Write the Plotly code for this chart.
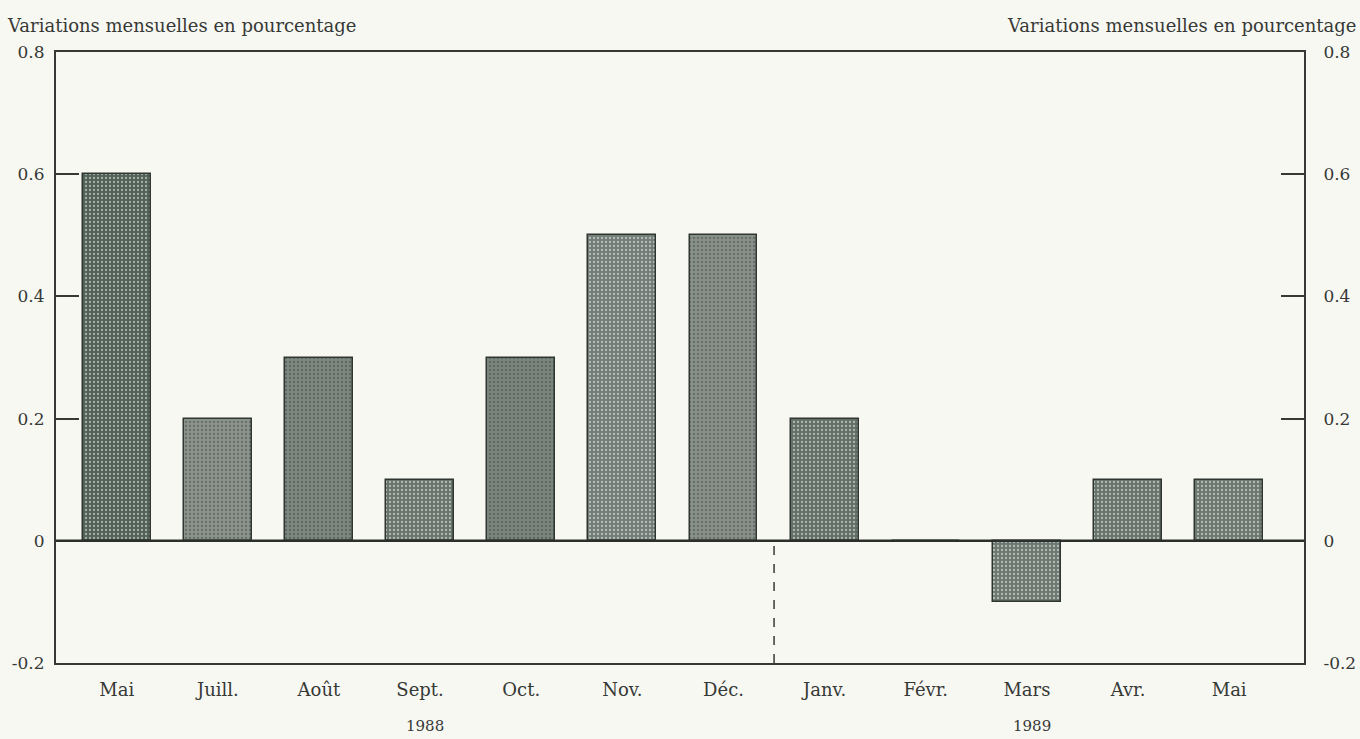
import plotly.graph_objects as go

# Monthly change, percent (May 1988 - May 1989)
months = ["Mai", "Juill.", "Août", "Sept.", "Oct.", "Nov.", "Déc.",
          "Janv.", "Févr.", "Mars", "Avr.", "Mai "]
changes = [0.6, 0.2, 0.3, 0.1, 0.3, 0.5, 0.5, 0.2, 0.0, -0.1, 0.1, 0.1]
y_ticks = [-0.2, 0, 0.2, 0.4, 0.6, 0.8]
y_tick_labels = ["-0.2", "0", "0.2", "0.4", "0.6", "0.8"]
years = ["1988", "1989"]
year_centers = [3, 9]
axis_title = "Variations mensuelles en pourcentage"

bar_fills = ["#526158", "#8a948c", "#7b877f", "#69756c", "#7a857e", "#717d76",
             "#87918a", "#626f67", "#6d7971", "#6c786f", "#67736b", "#6c786f"]

FONT = "DejaVu Serif"
INK = "#363936"
PAPER = "#f8f8f3"

fig = go.Figure()
fig.add_trace(go.Bar(
    x=list(range(len(months))),
    y=changes,
    width=0.67,
    marker=dict(
        color=bar_fills,
        line=dict(color="#2f3530", width=1.5),
        pattern=dict(shape=".", fgcolor="#3a433c", size=4, solidity=0.25,
                     fillmode="overlay"),
    ),
    showlegend=False,
    hoverinfo="x+y",
))
# Invisible trace to carry the right-hand axis
fig.add_trace(go.Scatter(x=[0], y=[0], yaxis="y2", mode="markers",
                         marker=dict(opacity=0), showlegend=False,
                         hoverinfo="skip"))

yrange = [-0.2, 0.8]
common_y = dict(range=yrange, tickvals=y_ticks, ticktext=y_tick_labels,
                ticks="inside", ticklen=23, tickwidth=1.5, tickcolor=INK,
                showgrid=False, zeroline=False, showline=True,
                linecolor=INK, linewidth=2, automargin=False,
                tickfont=dict(family=FONT, size=17, color=INK))

fig.update_layout(
    width=1360, height=739,
    margin=dict(l=56, r=56, t=52, b=76),
    paper_bgcolor=PAPER, plot_bgcolor=PAPER,
    bargap=0,
    xaxis=dict(range=[-0.6, 11.74], tickvals=list(range(len(months))),
               ticktext=[m.strip() for m in months], ticks="",
               ticklabelstandoff=9, automargin=False,
               showgrid=False, zeroline=False, showline=True, mirror=True,
               linecolor=INK, linewidth=2,
               tickfont=dict(family=FONT, size=18, color=INK)),
    yaxis=dict(side="left", ticklabelstandoff=6, **common_y),
    yaxis2=dict(side="right", overlaying="y", ticklabelstandoff=14,
                **common_y),
)

# Zero baseline
fig.add_shape(type="line", xref="paper", x0=0, x1=1, yref="y", y0=0, y1=0,
              line=dict(color="#2b302c", width=2.5))
# Year boundary marker
fig.add_shape(type="line", xref="x", x0=6.5, x1=6.5, yref="y", y0=-0.2, y1=0,
              line=dict(color=INK, width=1.5, dash="dash"))

for yr, xc in zip(years, year_centers):
    fig.add_annotation(x=xc + 0.05, xref="x", y=0, yref="paper", yshift=-63,
                       text=yr, showarrow=False, yanchor="middle",
                       font=dict(family=FONT, size=15, color=INK))

fig.add_annotation(x=0, xref="paper", xanchor="left", xshift=-51,
                   y=1, yref="paper", yshift=27, yanchor="middle",
                   text=axis_title, showarrow=False,
                   font=dict(family=FONT, size=18, color=INK))
fig.add_annotation(x=1, xref="paper", xanchor="right", xshift=54,
                   y=1, yref="paper", yshift=27, yanchor="middle",
                   text=axis_title, showarrow=False,
                   font=dict(family=FONT, size=18, color=INK))

fig.write_html("out.html")
